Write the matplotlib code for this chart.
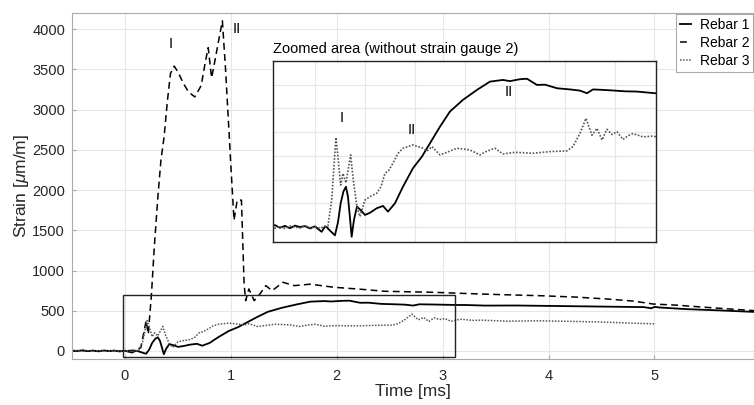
import matplotlib
matplotlib.use('Agg')
import matplotlib.pyplot as plt
from matplotlib.patches import Rectangle

plt.rcParams['font.family'] = ['Liberation Sans', 'DejaVu Sans']
plt.rcParams['mathtext.fontset'] = 'custom'
plt.rcParams['mathtext.rm'] = 'Liberation Sans'
plt.rcParams['mathtext.it'] = 'Liberation Sans:italic'

# time [ms] / strain [um/m]
t1 = [-0.5, -0.45, -0.4, -0.35, -0.3, -0.25, -0.2, -0.15, -0.1, -0.05, 0.0, 0.03, 0.067, 0.1,
      0.117, 0.15, 0.2, 0.23, 0.257, 0.285, 0.31, 0.33, 0.35, 0.367, 0.39, 0.42, 0.46, 0.5, 0.55,
      0.617, 0.68, 0.73, 0.8, 0.88, 0.98, 1.07, 1.15, 1.25, 1.35, 1.48, 1.62, 1.75, 1.88, 1.95,
      2.05, 2.12, 2.22, 2.3, 2.42, 2.55, 2.65, 2.72, 2.78, 2.88, 3.0, 3.1, 3.22, 3.4, 3.7, 4.0,
      4.3, 4.6, 4.9, 4.97, 5.0, 5.05, 5.3, 5.6, 5.95]
v1 = [5, 0, 8, -3, 5, -5, 6, 0, 4, -6, 3, -8, -20, 2,
      0, -15, -35, 20, 100, 150, 170, 128, 40, -41, 30, 86, 70, 51, 60,
      79, 89, 65, 100, 170, 248, 297, 353, 423, 487, 536, 578, 613, 620, 615,
      623, 625, 599, 600, 585, 580, 575, 564, 580, 578, 575, 572, 571, 564, 565, 560,
      555, 550, 545, 530, 548, 540, 520, 505, 485]

t2 = [-0.5, -0.4, -0.3, -0.2, -0.1, 0.0, 0.1, 0.15, 0.2, 0.22, 0.25, 0.277, 0.31, 0.34, 0.37,
      0.4, 0.43, 0.465, 0.5, 0.55, 0.6, 0.66, 0.72, 0.76, 0.786, 0.818, 0.84, 0.875, 0.92, 0.95,
      0.985, 1.0, 1.03, 1.06, 1.1, 1.125, 1.14, 1.17, 1.22, 1.27, 1.33, 1.39, 1.44, 1.49, 1.6,
      1.75, 1.97, 2.2, 2.45, 2.7, 2.92, 3.2, 3.55, 3.92, 4.25, 4.55, 4.8, 4.99, 5.2, 5.5, 5.95]
v2 = [0, 5, -5, 3, -3, 0, 10, 41, 375, 208, 700, 1291, 1900, 2375, 2666,
      3100, 3450, 3541, 3470, 3330, 3220, 3158, 3300, 3600, 3770, 3396, 3541, 3791, 4104, 3500,
      2666, 2300, 1625, 1875, 1875, 833, 625, 771, 625, 700, 812, 750, 800, 854, 812,
      830, 792, 770, 742, 735, 729, 715, 700, 687, 670, 646, 620, 583, 570, 541, 500]

t3 = [-0.5, -0.45, -0.4, -0.35, -0.3, -0.25, -0.2, -0.15, -0.1, -0.05, 0.0, 0.05, 0.1, 0.13,
      0.167, 0.21, 0.233, 0.257, 0.28, 0.31, 0.335, 0.357, 0.383, 0.42, 0.45, 0.5, 0.55, 0.617,
      0.66, 0.7, 0.74, 0.78, 0.83, 0.88, 0.98, 1.08, 1.12, 1.17, 1.25, 1.32, 1.42, 1.55, 1.65,
      1.72, 1.8, 1.88, 2.0, 2.18, 2.35, 2.52, 2.58, 2.65, 2.71, 2.77, 2.82, 2.87, 2.92, 2.97,
      3.02, 3.08, 3.13, 3.18, 3.28, 3.37, 3.6, 3.9, 4.2, 4.5, 4.8, 5.0]
v3 = [0, 5, -5, 3, -6, 4, 0, -4, 6, -3, 2, -5, 3, 5,
      114, 378, 283, 177, 226, 186, 250, 304, 198, 86, 44, 114, 128, 142,
      170, 226, 240, 269, 310, 332, 346, 332, 320, 339, 304, 315, 332, 325, 304,
      320, 332, 308, 315, 311, 318, 321, 339, 395, 458, 387, 416, 367, 412, 390,
      402, 369, 385, 394, 380, 383, 370, 375, 368, 360, 345, 337]

labels = ['Rebar 1', 'Rebar 2', 'Rebar 3']

fig = plt.figure(figsize=(7.54, 4.05), dpi=100)
ax = fig.add_axes([0.0955, 0.1136, 0.9045, 0.854])

ax.plot(t1, v1, color='black', lw=1.3, label=labels[0])
ax.plot(t2, v2, color='black', lw=1.1, ls=(0, (4.5, 2.8)), label=labels[1])
ax.plot(t3, v3, color='#555555', lw=1.1, ls=(0, (1, 1)), label=labels[2])

ax.set_xlim(-0.5, 5.94)
ax.set_ylim(-100, 4200)
ax.set_xticks(range(0, 6))
ax.set_yticks(range(0, 4001, 500))
ax.grid(True, color='#e6e6e6', lw=0.8)
ax.set_axisbelow(True)
ax.tick_params(direction='in', length=3, labelsize=10.5, colors='#aaaaaa', labelcolor='#262626')
ax.tick_params(axis='x', pad=7)
ax.tick_params(axis='y', pad=5)
for s in ax.spines.values():
    s.set_color('#aaaaaa')
ax.set_xlabel('Time [ms]', fontsize=12.5, color='#262626', labelpad=1)
ax.set_ylabel('Strain [$\\mu$m/m]', fontsize=12.5, color='#262626', labelpad=1)

ax.text(0.43, 3810, 'I', fontsize=10.5, ha='center', va='center')
ax.text(1.06, 4000, 'II', fontsize=10.5, ha='center', va='center')

ax.add_patch(Rectangle((-0.02, -75), 3.14, 775, fill=False, ec='#222222', lw=1.0, zorder=5))

leg = ax.legend(loc='upper right', fontsize=10, handlelength=0.8, handletextpad=0.6,
                labelspacing=0.28, borderpad=0.3, borderaxespad=0.05, fancybox=False,
                framealpha=1)
leg.get_frame().set_edgecolor('#aaaaaa')
leg.get_frame().set_linewidth(0.8)

# zoomed inset
axi = fig.add_axes([0.362, 0.4025, 0.508, 0.447])
axi.plot(t1, v1, color='black', lw=1.3)
axi.plot(t3, v3, color='#555555', lw=1.2, ls=(0, (1, 1)))
axi.set_xlim(-0.42, 3.41)
axi.set_ylim(-63, 700)
axi.set_xticks([0, 0.5, 1, 1.5, 2, 2.5, 3])
axi.set_yticks(range(0, 701, 100))
axi.tick_params(length=0, labelbottom=False, labelleft=False)
axi.grid(True, color='#e6e6e6', lw=0.8)
axi.set_axisbelow(True)
for s in axi.spines.values():
    s.set_color('#222222')
    s.set_linewidth(1.0)
axi.text(0.27, 459, 'I', fontsize=10.5, ha='center', va='center')
axi.text(0.97, 409, 'II', fontsize=10.5, ha='center', va='center')
axi.text(1.94, 571, 'II', fontsize=10.5, ha='center', va='center')
axi.text(0.0, 1.03, 'Zoomed area (without strain gauge 2)', transform=axi.transAxes,
         fontsize=10.5, ha='left', va='bottom')

fig.savefig('out.png', dpi=100)
